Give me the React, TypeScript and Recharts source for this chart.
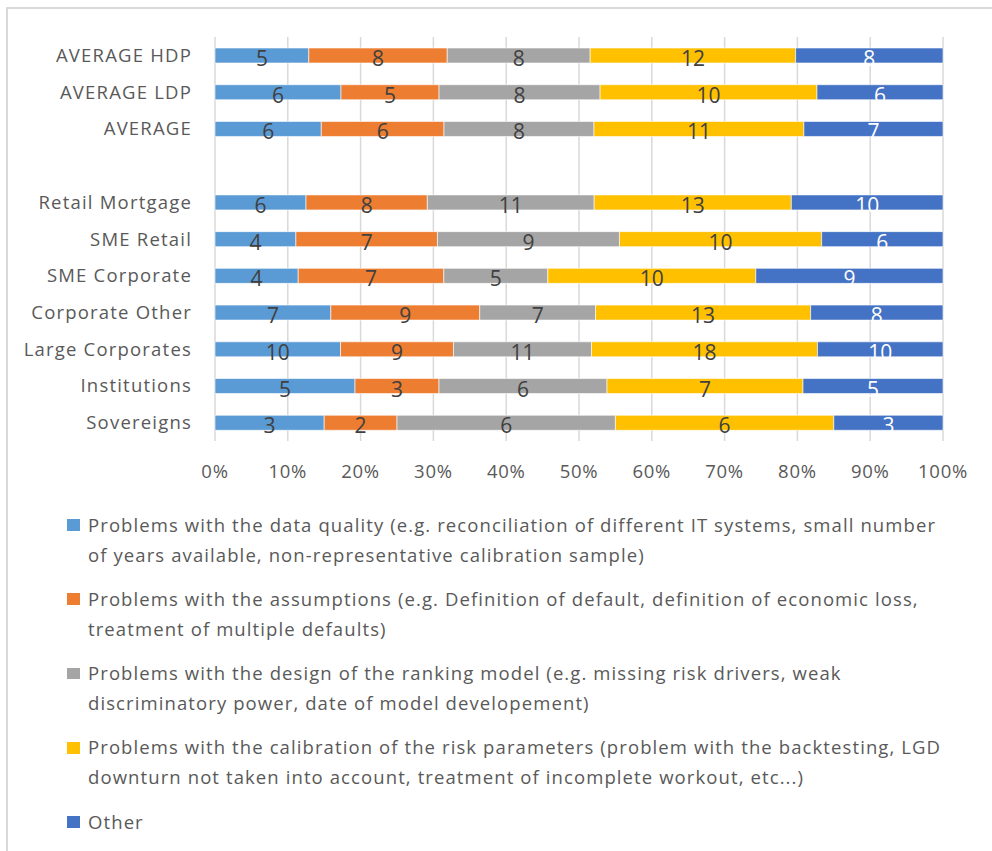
import { BarChart, Bar, XAxis, YAxis, CartesianGrid, LabelList } from 'recharts';

const FONT = '"Open Sans", "Noto Sans", sans-serif';

const categories = [
  'AVERAGE HDP',
  'AVERAGE LDP',
  'AVERAGE',
  '',
  'Retail Mortgage',
  'SME Retail',
  'SME Corporate',
  'Corporate Other',
  'Large Corporates',
  'Institutions',
  'Sovereigns',
];

// counts per category (averages are fractional, labels round them)
const dataQuality = [5.25, 6, 5.57, 0, 6, 4, 4, 7, 10, 5, 3];
const assumptions = [7.75, 4.67, 6.43, 0, 8, 7, 7, 9, 9, 3, 2];
const rankingDesign = [8, 7.67, 7.86, 0, 11, 9, 5, 7, 11, 6, 6];
const calibration = [11.5, 10.33, 11, 0, 13, 10, 10, 13, 18, 7, 6];
const other = [8.25, 6, 7.29, 0, 10, 6, 9, 8, 10, 5, 3];

const xTicks = [0, 0.1, 0.2, 0.3, 0.4, 0.5, 0.6, 0.7, 0.8, 0.9, 1];

const legendLines = [
  [
    'Problems with the data quality (e.g. reconciliation of different IT systems, small number',
    'of years available, non-representative calibration sample)',
  ],
  [
    'Problems with the assumptions (e.g. Definition of default, definition of economic loss,',
    'treatment of multiple defaults)',
  ],
  [
    'Problems with the design of the ranking model (e.g. missing risk drivers, weak',
    'discriminatory power, date of model developement)',
  ],
  [
    'Problems with the calibration of the risk parameters (problem with the backtesting, LGD',
    'downturn not taken into account, treatment of incomplete workout, etc...)',
  ],
  ['Other'],
];

const series = [
  { key: 'dataQuality', color: '#5B9BD5', labelColor: '#404040' },
  { key: 'assumptions', color: '#ED7D31', labelColor: '#404040' },
  { key: 'rankingDesign', color: '#A5A5A5', labelColor: '#404040' },
  { key: 'calibration', color: '#FFC000', labelColor: '#404040' },
  { key: 'other', color: '#4472C4', labelColor: '#ffffff' },
];

export default function App() {
  const data = categories.map((name, i) => ({
    name,
    dataQuality: dataQuality[i],
    assumptions: assumptions[i],
    rankingDesign: rankingDesign[i],
    calibration: calibration[i],
    other: other[i],
  }));

  return (
    <div
      style={{
        position: 'fixed',
        left: 0,
        top: 0,
        width: 992,
        height: 851,
        overflow: 'hidden',
        background: '#fff',
        fontFamily: FONT,
      }}
    >
      <div
        style={{
          position: 'absolute',
          left: 6,
          top: 7,
          width: 1100,
          height: 1000,
          border: '2px solid #d9d9d9',
        }}
      />
      <div style={{ position: 'absolute', left: 0, top: 0 }}>
        <BarChart
          width={992}
          height={500}
          data={data}
          layout="vertical"
          stackOffset="expand"
          barSize={15}
          margin={{ top: 37, right: 49, left: 15, bottom: 29 }}
        >
          <CartesianGrid horizontal={false} stroke="#d9d9d9" strokeWidth={1.5} />
          <XAxis
            type="number"
            domain={[0, 1]}
            ticks={xTicks}
            tickFormatter={(v) => `${Math.round(v * 100)}%`}
            axisLine={false}
            tickLine={false}
            tickMargin={18}
            height={30}
            interval={0}
            tick={{ fill: '#595959', fontSize: 18.5, fontFamily: FONT, letterSpacing: 0.7 }}
          />
          <YAxis
            type="category"
            dataKey="name"
            width={200}
            axisLine={false}
            tickLine={false}
            tickMargin={17}
            interval={0}
            tick={{ fill: '#595959', fontSize: 18.5, fontFamily: FONT, letterSpacing: 1.2 }}
          />
          {series.map((s) => (
            <Bar
              key={s.key}
              dataKey={s.key}
              stackId="a"
              fill={s.color}
              stroke="#ffffff"
              strokeWidth={0.6}
              isAnimationActive={false}
            >
              <LabelList
                dataKey={s.key}
                position="center"
                fill={s.labelColor}
                fontSize={21}
                fontFamily={FONT}
                dy={3}
                formatter={(v: any) => (v ? Math.round(Number(v)) : '')}
              />
            </Bar>
          ))}
        </BarChart>
      </div>
      <div style={{ position: 'absolute', left: 88, top: 509.5 }}>
        {legendLines.map((lines, i) => (
          <div
            key={i}
            style={{
              position: 'relative',
              marginBottom: 14.3,
              fontSize: 18.5,
              lineHeight: '30px',
              color: '#595959',
              letterSpacing: 1.1,
              whiteSpace: 'nowrap',
            }}
          >
            <span
              style={{
                position: 'absolute',
                left: -21,
                top: 9.5,
                width: 13.4,
                height: 11.7,
                background: series[i].color,
              }}
            />
            {lines.map((line, j) => (
              <div key={j}>{line}</div>
            ))}
          </div>
        ))}
      </div>
    </div>
  );
}
